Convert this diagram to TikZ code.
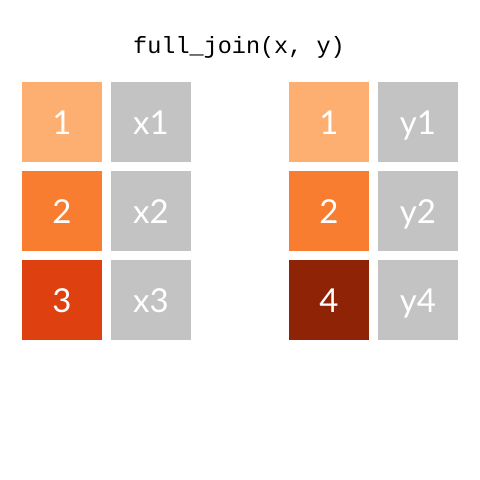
\documentclass[tikz,border=0pt]{standalone}
\usepackage{fontspec}
\setmainfont{Lato}
\newfontfamily\codefont{Liberation Mono}
\definecolor{kone}{HTML}{FCAF71}
\definecolor{ktwo}{HTML}{F97D31}
\definecolor{kthree}{HTML}{DE400F}
\definecolor{kfour}{HTML}{8E2306}
\definecolor{valgray}{HTML}{C3C3C3}
\begin{document}
\begin{tikzpicture}[x=1pt,y=-1pt,
  cell/.style={minimum width=80pt,minimum height=80pt,inner sep=0pt,text=white,
    font=\fontsize{33}{33}\selectfont,text height=24pt,text depth=0pt},
  keycell/.style={cell,fill=#1},
  valcell/.style={cell,fill=valgray}]
\useasboundingbox (0,0) rectangle (480,480);
\node[font=\codefont\fontsize{23.5}{24}\selectfont,anchor=base] (title) at (239,53) {full\_join(x, y)};
% left table
\node[keycell=kone] (xk1) at (62,122) {1};
\node[valcell] (xv1) at (151,122) {x1};
\node[keycell=ktwo] (xk2) at (62,211) {2};
\node[valcell] (xv2) at (151,211) {x2};
\node[keycell=kthree] (xk3) at (62,300) {3};
\node[valcell] (xv3) at (151,300) {x3};
% right table
\node[keycell=kone] (yk1) at (329,122) {1};
\node[valcell] (yv1) at (418,122) {y1};
\node[keycell=ktwo] (yk2) at (329,211) {2};
\node[valcell] (yv2) at (418,211) {y2};
\node[keycell=kfour] (yk4) at (329,300) {4};
\node[valcell] (yv4) at (418,300) {y4};
\end{tikzpicture}
\end{document}
